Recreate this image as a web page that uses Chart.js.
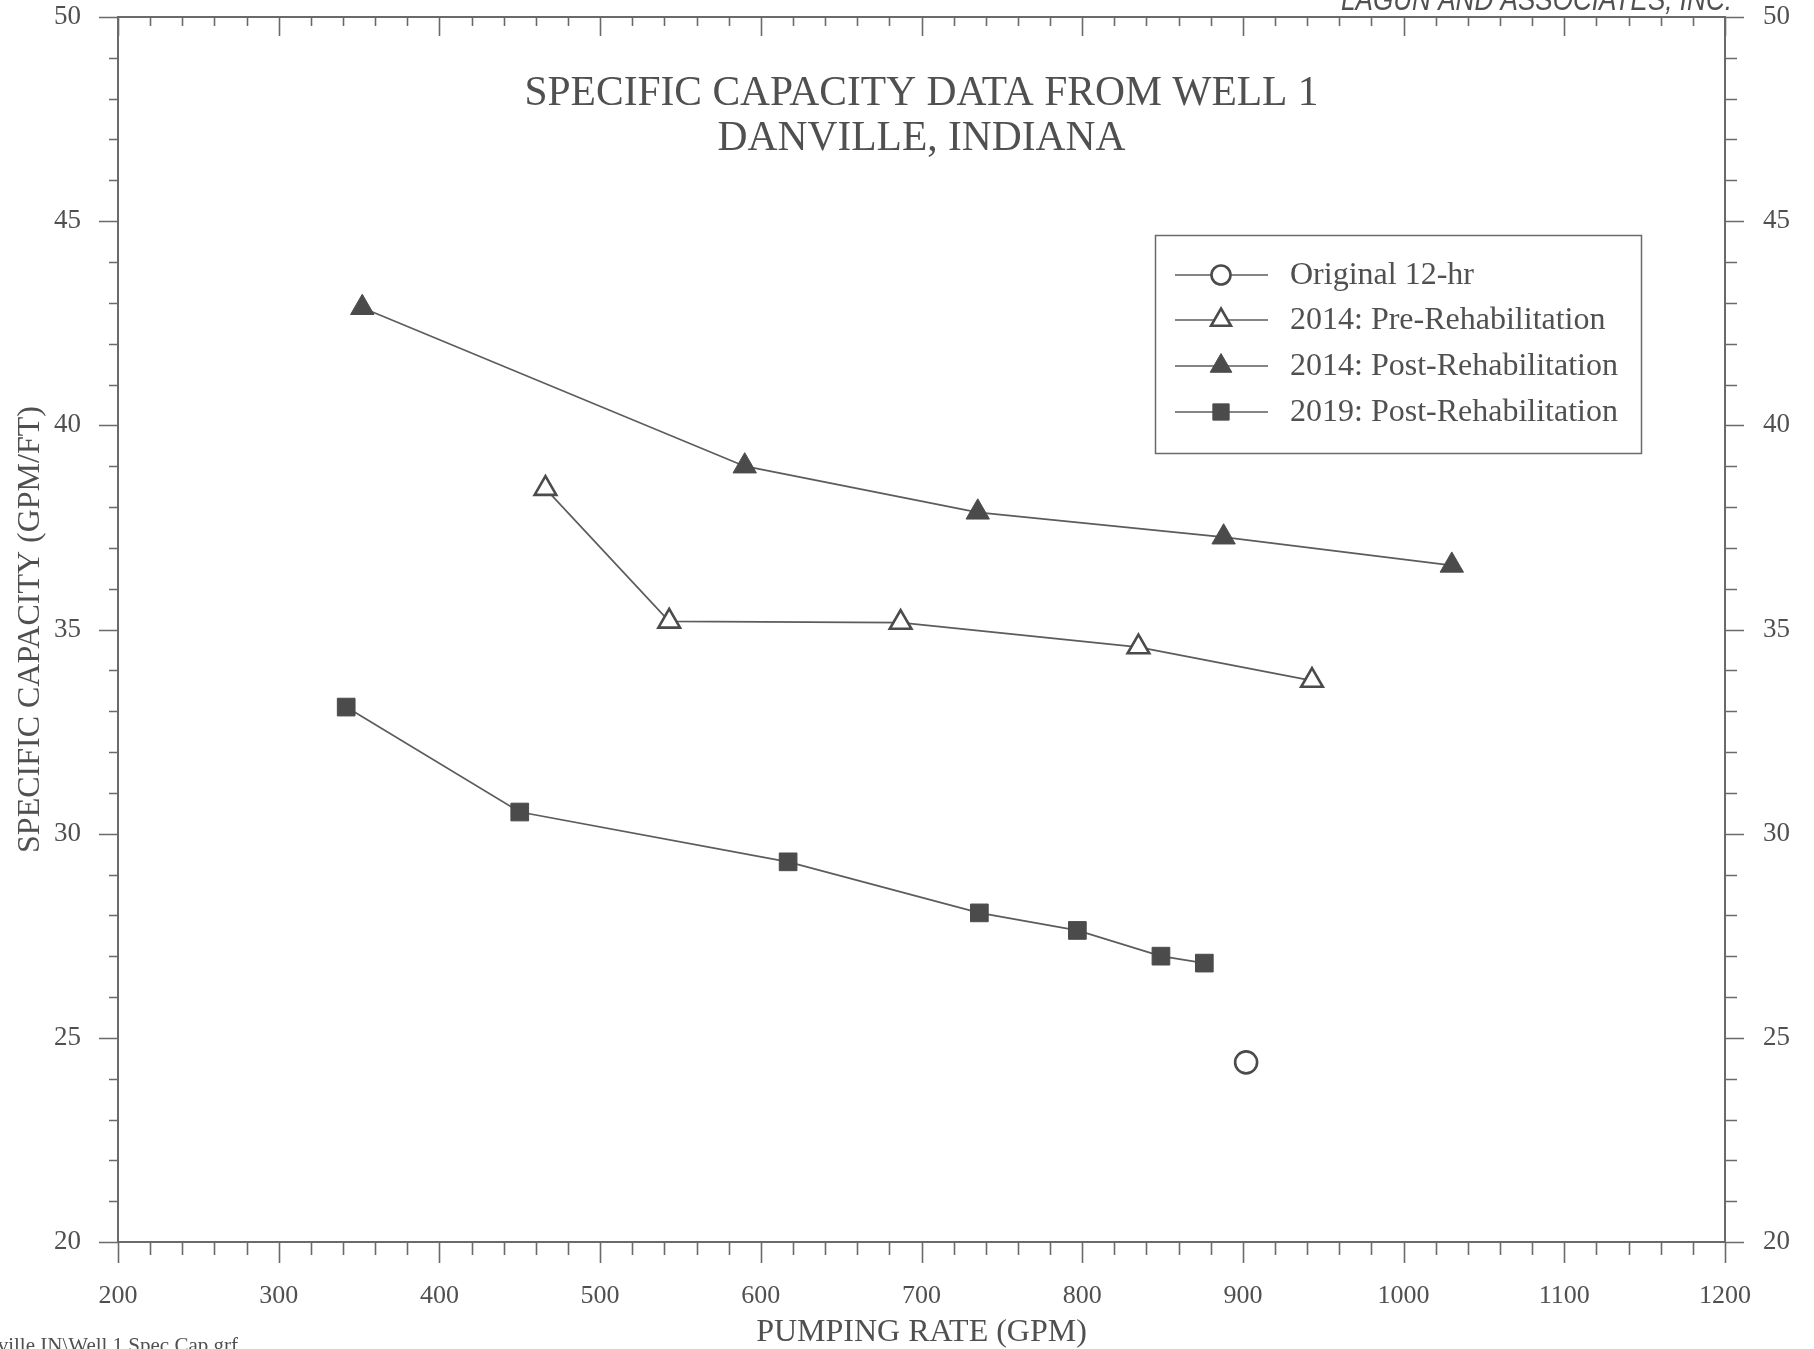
<!DOCTYPE html>
<html>
<head>
<meta charset="utf-8">
<title>Specific Capacity Data From Well 1</title>
<script src="https://cdn.jsdelivr.net/npm/chart.js@4/dist/chart.umd.min.js"></script>
<style>
  html, body { margin: 0; padding: 0; background: #fff; }
  #chart { display: block; }
</style>
</head>
<body>
<canvas id="chart" width="1814" height="1349"></canvas>
<script>
// data (pumping rate in GPM, specific capacity in GPM/FT)
const original12hrRate = [902];
const original12hrCapacity = [24.4];

const pre2014Rate = [466, 543, 687, 835, 943];
const pre2014Capacity = [38.45, 35.2, 35.17, 34.57, 33.75];

const post2014Rate = [352, 590, 735, 888, 1030];
const post2014Capacity = [42.88, 39.0, 37.87, 37.26, 36.57];

const post2019Rate = [342, 450, 617, 736, 797, 849, 876];
const post2019Capacity = [33.1, 30.53, 29.31, 28.06, 27.63, 27.0, 26.83];

const seriesLabels = [
  'Original 12-hr',
  '2014: Pre-Rehabilitation',
  '2014: Post-Rehabilitation',
  '2019: Post-Rehabilitation'
];

// axis ranges and tick spacing
const xRange = [200, 1200];
const xMajorStep = 100;
const xMinorStep = 20;
const yRange = [20, 50];
const yMajorStep = 5;
const yMinorStep = 1;

const titleLines = ['SPECIFIC CAPACITY DATA FROM WELL 1', 'DANVILLE, INDIANA'];
const xTitle = 'PUMPING RATE (GPM)';
const yTitle = 'SPECIFIC CAPACITY (GPM/FT)';
const companyText = 'LAGUN AND ASSOCIATES, INC.';
const fileText = 'Danville IN\\Well 1 Spec Cap.grf';

const SERIF = "'Liberation Serif', 'Times New Roman', serif";
const INK = '#505050';
const LINE = '#5c5c5c';
const MARK = '#4b4b4b';
const AXIS = '#6a6a6a';

function toPoints(xs, ys) {
  return xs.map((x, i) => ({ x, y: ys[i] }));
}

const datasets = [
  {
    label: seriesLabels[0],
    data: toPoints(original12hrRate, original12hrCapacity),
    showLine: false,
    pointStyle: 'circle',
    pointRadius: 11,
    pointBackgroundColor: '#ffffff',
    pointBorderColor: MARK,
    pointBorderWidth: 2.6
  },
  {
    label: seriesLabels[1],
    data: toPoints(pre2014Rate, pre2014Capacity),
    showLine: true,
    borderColor: LINE,
    borderWidth: 1.7,
    pointStyle: 'triangle',
    pointRadius: 12.5,
    pointBackgroundColor: '#ffffff',
    pointBorderColor: MARK,
    pointBorderWidth: 2.6
  },
  {
    label: seriesLabels[2],
    data: toPoints(post2014Rate, post2014Capacity),
    showLine: true,
    borderColor: LINE,
    borderWidth: 1.7,
    pointStyle: 'triangle',
    pointRadius: 13.5,
    pointBackgroundColor: MARK,
    pointBorderColor: MARK,
    pointBorderWidth: 1
  },
  {
    label: seriesLabels[3],
    data: toPoints(post2019Rate, post2019Capacity),
    showLine: true,
    borderColor: LINE,
    borderWidth: 1.7,
    pointStyle: 'rect',
    pointRadius: 12.5,
    pointBackgroundColor: MARK,
    pointBorderColor: MARK,
    pointBorderWidth: 1
  }
];

// major + minor tick marks on all four sides of the frame
const frameTicks = {
  id: 'frameTicks',
  afterDraw(chart) {
    const { ctx, chartArea: a, scales } = chart;
    ctx.save();
    ctx.strokeStyle = AXIS;
    ctx.lineWidth = 1.6;
    ctx.beginPath();
    for (let v = xRange[0]; v <= xRange[1] + 1e-9; v += xMinorStep) {
      const major = Math.abs(v / xMajorStep - Math.round(v / xMajorStep)) < 1e-6;
      const px = Math.round(scales.x.getPixelForValue(v)) + 0.5;
      // bottom: outward
      ctx.moveTo(px, a.bottom);
      ctx.lineTo(px, a.bottom + (major ? 21 : 13));
      // top: inward
      ctx.moveTo(px, a.top);
      ctx.lineTo(px, a.top + (major ? 19 : 9));
    }
    for (let v = yRange[0]; v <= yRange[1] + 1e-9; v += yMinorStep) {
      const major = v % yMajorStep === 0;
      const py = Math.round(scales.y.getPixelForValue(v)) + 0.5;
      ctx.moveTo(a.left, py);
      ctx.lineTo(a.left - (major ? 19 : 9), py);
      ctx.moveTo(a.right, py);
      ctx.lineTo(a.right + (major ? 19 : 12), py);
    }
    ctx.stroke();
    ctx.restore();
  }
};

// title, legend box and the page texts around the plot
const pageText = {
  id: 'pageText',
  afterDraw(chart) {
    const { ctx, chartArea: a } = chart;
    const cx = (a.left + a.right) / 2;
    ctx.save();
    ctx.fillStyle = INK;
    ctx.textAlign = 'center';
    ctx.textBaseline = 'middle';
    ctx.font = `41.5px ${SERIF}`;
    ctx.fillText(titleLines[0], cx, 94);
    ctx.fillText(titleLines[1], cx, 139);

    // legend
    const box = { left: 1155, top: 235, right: 1641, bottom: 453 };
    ctx.strokeStyle = AXIS;
    ctx.lineWidth = 1.5;
    ctx.strokeRect(box.left + 0.5, box.top + 0.5, box.right - box.left, box.bottom - box.top);
    const rowY = [275, 320, 366, 412];
    ctx.font = `32px ${SERIF}`;
    ctx.textAlign = 'left';
    datasets.forEach((ds, i) => {
      const y = rowY[i];
      ctx.strokeStyle = LINE;
      ctx.lineWidth = 1.6;
      ctx.beginPath();
      ctx.moveTo(1175, y);
      ctx.lineTo(1268, y);
      ctx.stroke();
      ctx.fillStyle = ds.pointBackgroundColor;
      ctx.strokeStyle = ds.pointBorderColor;
      ctx.lineWidth = ds.pointBorderWidth;
      Chart.helpers.drawPoint(ctx, {
        pointStyle: ds.pointStyle,
        radius: ds.pointStyle === 'circle' ? 9.5 : ds.pointRadius - 1,
        rotation: 0,
        borderWidth: ds.pointBorderWidth
      }, 1221, y);
      ctx.fillStyle = INK;
      ctx.fillText(ds.label, 1290, y + 1);
    });

    // company name, cut by the top edge (narrow italic sans)
    ctx.font = `italic 31px 'Liberation Sans', Arial, sans-serif`;
    ctx.textAlign = 'left';
    ctx.textBaseline = 'alphabetic';
    const w = ctx.measureText(companyText).width;
    const targetW = 391;
    ctx.save();
    ctx.translate(1341, 10);
    ctx.scale(targetW / w, 1);
    ctx.fillText(companyText, 0, 0);
    ctx.restore();

    // file path, cut by the bottom-left corner
    ctx.font = `21px ${SERIF}`;
    ctx.textAlign = 'right';
    ctx.fillText(fileText, 238, 1352);
    ctx.restore();
  }
};

const tickFont = { family: SERIF, size: 26 };
const titleFont = { family: SERIF, size: 32, lineHeight: 0.94 };

// keep the plot frame where the reference has it
function fixBox(size) {
  return s => {
    if (size.width !== undefined) s.width = size.width;
    if (size.height !== undefined) s.height = size.height;
    s.paddingTop = 0;
    s.paddingBottom = 0;
    s.paddingLeft = 0;
    s.paddingRight = 0;
  };
}

new Chart(document.getElementById('chart'), {
  type: 'scatter',
  data: { datasets },
  options: {
    responsive: false,
    animation: false,
    events: [],
    layout: { padding: 0 },
    plugins: {
      legend: { display: false },
      tooltip: { enabled: false },
      title: { display: false }
    },
    scales: {
      x: {
        type: 'linear',
        position: 'bottom',
        min: xRange[0],
        max: xRange[1],
        ticks: { stepSize: xMajorStep, font: tickFont, color: INK, padding: 39, maxRotation: 0, callback: v => String(v) },
        grid: { display: false, drawTicks: false },
        border: { display: true, color: AXIS, width: 2 },
        title: { display: true, text: xTitle, font: titleFont, color: INK, padding: { top: 0, bottom: 1 } },
        afterFit: fixBox({ height: 107 })
      },
      x2: {
        type: 'linear',
        position: 'top',
        min: xRange[0],
        max: xRange[1],
        ticks: { display: false },
        grid: { display: false, drawTicks: false },
        border: { display: true, color: AXIS, width: 2 },
        afterFit: fixBox({ height: 17 })
      },
      y: {
        type: 'linear',
        position: 'left',
        min: yRange[0],
        max: yRange[1],
        ticks: { stepSize: yMajorStep, font: { family: SERIF, size: 27 }, color: INK, padding: 37 },
        grid: { display: false, drawTicks: false },
        border: { display: true, color: AXIS, width: 2 },
        title: { display: true, text: yTitle, font: { family: SERIF, size: 32, lineHeight: 1 }, color: INK, padding: { top: 15, bottom: 0 } },
        afterFit: fixBox({ width: 118 })
      },
      y2: {
        type: 'linear',
        position: 'right',
        min: yRange[0],
        max: yRange[1],
        ticks: { stepSize: yMajorStep, font: { family: SERIF, size: 27 }, color: INK, padding: 38 },
        grid: { display: false, drawTicks: false },
        border: { display: true, color: AXIS, width: 2 },
        afterFit: fixBox({ width: 89 })
      }
    }
  },
  plugins: [frameTicks, pageText]
});
</script>
</body>
</html>
